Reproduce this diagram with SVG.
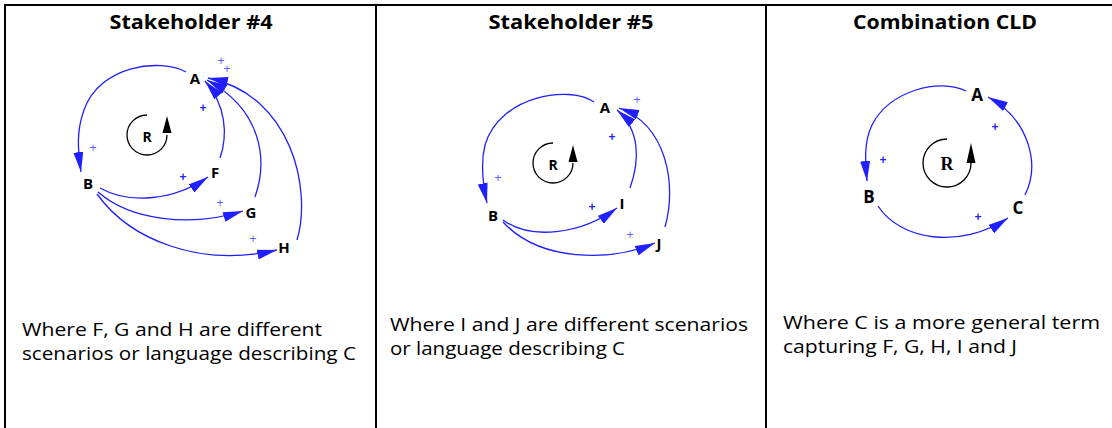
<svg xmlns="http://www.w3.org/2000/svg" width="1112" height="428" viewBox="0 0 1112 428">
<style>
.frame{stroke:#000;stroke-width:2;fill:none}
.title{font-family:"Open Sans","Liberation Sans",sans-serif;font-weight:bold;font-size:20px;fill:#000;text-anchor:middle}
.body{font-family:"Open Sans","Liberation Sans",sans-serif;font-size:19px;fill:#000}
.lbl{font-family:"Open Sans","Liberation Sans",sans-serif;font-weight:bold;font-size:15px;fill:#000;text-anchor:middle}
.lbl3{font-family:"Open Sans","Liberation Sans",sans-serif;font-weight:bold;font-size:17px;fill:#000;text-anchor:middle}
.rl{font-family:"Open Sans","Liberation Sans",sans-serif;font-weight:bold;font-size:14px;fill:#000;text-anchor:middle}
.rs{font-family:"Liberation Serif",serif;font-weight:bold;font-size:18px;fill:#000;text-anchor:middle}
.link{fill:none;stroke:#1f1fff;stroke-width:1.3}
.loop{fill:none;stroke:#000;stroke-width:1.3}
.pt{font-family:"Liberation Sans",sans-serif;font-size:12px;fill:#5a5aff;text-anchor:middle}
.pb{font-family:"Liberation Sans",sans-serif;font-size:12px;font-weight:bold;fill:#1f1fff;text-anchor:middle}
</style>
<defs>
<marker id="ah" markerUnits="userSpaceOnUse" markerWidth="20" markerHeight="10" refX="20" refY="5" orient="auto">
<path d="M0,0 L20,5 L0,10 z" fill="#1f1fff"/>
</marker>
</defs>
<rect width="1112" height="428" fill="#fff"/>
<g id="frame">
<line class="frame" x1="4" y1="5" x2="1112" y2="5"/>
<line class="frame" x1="5" y1="4" x2="5" y2="428"/>
<line class="frame" x1="376" y1="4" x2="376" y2="428"/>
<line class="frame" x1="766" y1="4" x2="766" y2="428"/>
</g>
<g id="titles">
<text class="title" x="191" y="29" textLength="163" lengthAdjust="spacingAndGlyphs">Stakeholder #4</text>
<text class="title" x="571" y="29" textLength="165" lengthAdjust="spacingAndGlyphs">Stakeholder #5</text>
<text class="title" x="945" y="29" textLength="184" lengthAdjust="spacingAndGlyphs">Combination CLD</text>
</g>
<g id="captions">
<text class="body" x="22" y="336" textLength="300" lengthAdjust="spacingAndGlyphs">Where F, G and H are different</text>
<text class="body" x="22" y="360" textLength="334" lengthAdjust="spacingAndGlyphs">scenarios or language describing C</text>
<text class="body" x="390" y="331" textLength="358" lengthAdjust="spacingAndGlyphs">Where I and J are different scenarios</text>
<text class="body" x="390" y="355" textLength="235" lengthAdjust="spacingAndGlyphs">or language describing C</text>
<text class="body" x="783" y="329" textLength="317" lengthAdjust="spacingAndGlyphs">Where C is a more general term</text>
<text class="body" x="783" y="353" textLength="234" lengthAdjust="spacingAndGlyphs">capturing F, G, H, I and J</text>
</g>
<g id="connectors">
<path class="link" marker-end="url(#ah)" d="M186,72 C160,58 100,65 84,110 C76,132 78,150 81,172"/>
<path class="link" marker-end="url(#ah)" d="M100,188 C130,205 175,200 208,177"/>
<path class="link" marker-end="url(#ah)" d="M98,192 C130,220 190,228 243,211"/>
<path class="link" marker-end="url(#ah)" d="M97,194 C130,240 200,268 277,250"/>
<path class="link" marker-end="url(#ah)" d="M220,158 C228,135 226,105 205,81"/>
<path class="link" marker-end="url(#ah)" d="M255,197 C268,160 262,110 207,80"/>
<path class="link" marker-end="url(#ah)" d="M297,240 C312,190 292,95 208,78"/>
<path class="link" marker-end="url(#ah)" d="M594,102 C570,85 500,95 485,145 C480,165 483,185 487,203"/>
<path class="link" marker-end="url(#ah)" d="M503,220 C530,240 580,235 617,208"/>
<path class="link" marker-end="url(#ah)" d="M503,222 C540,262 610,262 655,243"/>
<path class="link" marker-end="url(#ah)" d="M630,188 C640,160 640,130 617,110"/>
<path class="link" marker-end="url(#ah)" d="M665,227 C677,185 667,125 619,108"/>
<path class="link" marker-end="url(#ah)" d="M966,91 C940,78 890,90 872,125 C864,142 865,160 867,181"/>
<path class="link" marker-end="url(#ah)" d="M878,206 C900,240 960,250 1008,218"/>
<path class="link" marker-end="url(#ah)" d="M1025,195 C1040,165 1030,120 988,97"/>
</g>
<g id="polarities">
<text class="pt" x="221" y="65">+</text>
<text class="pt" x="227" y="73">+</text>
<text class="pb" x="203" y="112">+</text>
<text class="pt" x="93" y="152">+</text>
<text class="pb" x="183" y="181">+</text>
<text class="pt" x="220" y="207">+</text>
<text class="pt" x="253" y="243">+</text>
<text class="pt" x="637" y="104">+</text>
<text class="pb" x="612" y="141">+</text>
<text class="pt" x="498" y="182">+</text>
<text class="pb" x="592" y="211">+</text>
<text class="pt" x="630" y="239">+</text>
<text class="pb" x="995" y="131">+</text>
<text class="pb" x="883" y="164">+</text>
<text class="pb" x="978" y="221">+</text>
</g>
<g id="loop1">
<path class="loop" d="M147,115 A20,20 0 1,0 167,135"/>
<polygon points="162.5,133 171.5,133 167,116" fill="#000"/>
<text class="rl" x="147" y="142">R</text>
</g>
<g id="loop2">
<path class="loop" d="M553,143 A20,20 0 1,0 573,163"/>
<polygon points="568.5,162 577.5,162 573,145" fill="#000"/>
<text class="rl" x="553" y="170">R</text>
</g>
<g id="loop3">
<path class="loop" d="M947,139 A24,24 0 1,0 971,163"/>
<polygon points="966.5,163 975.5,163 971,143" fill="#000"/>
<text class="rs" x="947" y="170">R</text>
</g>
<g id="node-A1"><text class="lbl" x="195" y="84">A</text></g>
<g id="node-B1"><text class="lbl" x="88" y="189">B</text></g>
<g id="node-F"><text class="lbl" x="215" y="178">F</text></g>
<g id="node-G"><text class="lbl" x="251" y="218">G</text></g>
<g id="node-H"><text class="lbl" x="284" y="253">H</text></g>
<g id="node-A2"><text class="lbl" x="605" y="113">A</text></g>
<g id="node-B2"><text class="lbl" x="493" y="221">B</text></g>
<g id="node-I"><text class="lbl" x="622" y="209">I</text></g>
<g id="node-J"><text class="lbl" x="659" y="249">J</text></g>
<g id="node-A3"><text class="lbl3" x="977" y="101">A</text></g>
<g id="node-B3"><text class="lbl3" x="869" y="203">B</text></g>
<g id="node-C"><text class="lbl3" x="1018" y="214">C</text></g>
</svg>
